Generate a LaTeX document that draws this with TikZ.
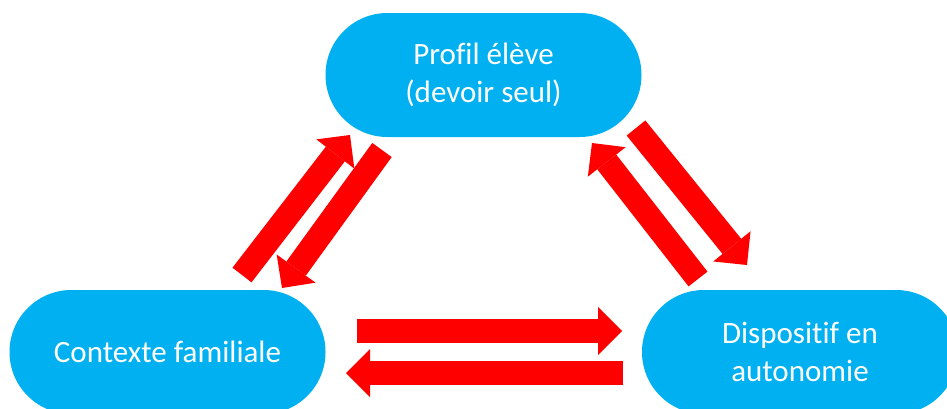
\documentclass[tikz,border=0pt]{standalone}
\usepackage{fontspec}
\setmainfont{Carlito}[Ligatures=NoCommon]
\usetikzlibrary{arrows.meta}
\definecolor{pillblue}{RGB}{0,176,240}

\begin{document}
\begin{tikzpicture}[x=1pt,y=-1pt,
		pill/.style={fill=pillblue,text=white,rounded corners=61.9pt,minimum width=316pt,minimum height=124pt,align=center,font=\fontsize{31}{38.5}\selectfont},
		redarrow/.style={draw=red,line width=24pt,-{Triangle[length=24pt,width=48pt,line width=0pt]}}]
				\useasboundingbox (0,0) rectangle (947,408);
				\clip (0,0) rectangle (947,408);
				
				\node[pill] (profil) at (483.5,75) {Profil élève\\(devoir seul)};
				\node[pill] (contexte) at (167.5,352) {Contexte familiale};
				\node[pill] (dispositif) at (800,352) {Dispositif en\\autonomie};
				
				\coordinate (c2p-a) at (242,275);
				\coordinate (c2p-b) at (350,135);
				\coordinate (p2c-a) at (382,150);
				\coordinate (p2c-b) at (282,288);
				
				\coordinate (p2d-a) at (636,128);
				\coordinate (p2d-b) at (747,265);
				\coordinate (d2p-a) at (698,279);
				\coordinate (d2p-b) at (592,143);
				
				\coordinate (c2d-a) at (357,331);
				\coordinate (c2d-b) at (622,331);
				\coordinate (d2c-a) at (623,373);
				\coordinate (d2c-b) at (346,373);
				
				\draw[redarrow] (c2p-a) -- (c2p-b);
				\draw[redarrow] (p2c-a) -- (p2c-b);
				\draw[redarrow] (p2d-a) -- (p2d-b);
				\draw[redarrow] (d2p-a) -- (d2p-b);
				\draw[redarrow] (c2d-a) -- (c2d-b);
				\draw[redarrow] (d2c-a) -- (d2c-b);
			\end{tikzpicture}
\end{document}
